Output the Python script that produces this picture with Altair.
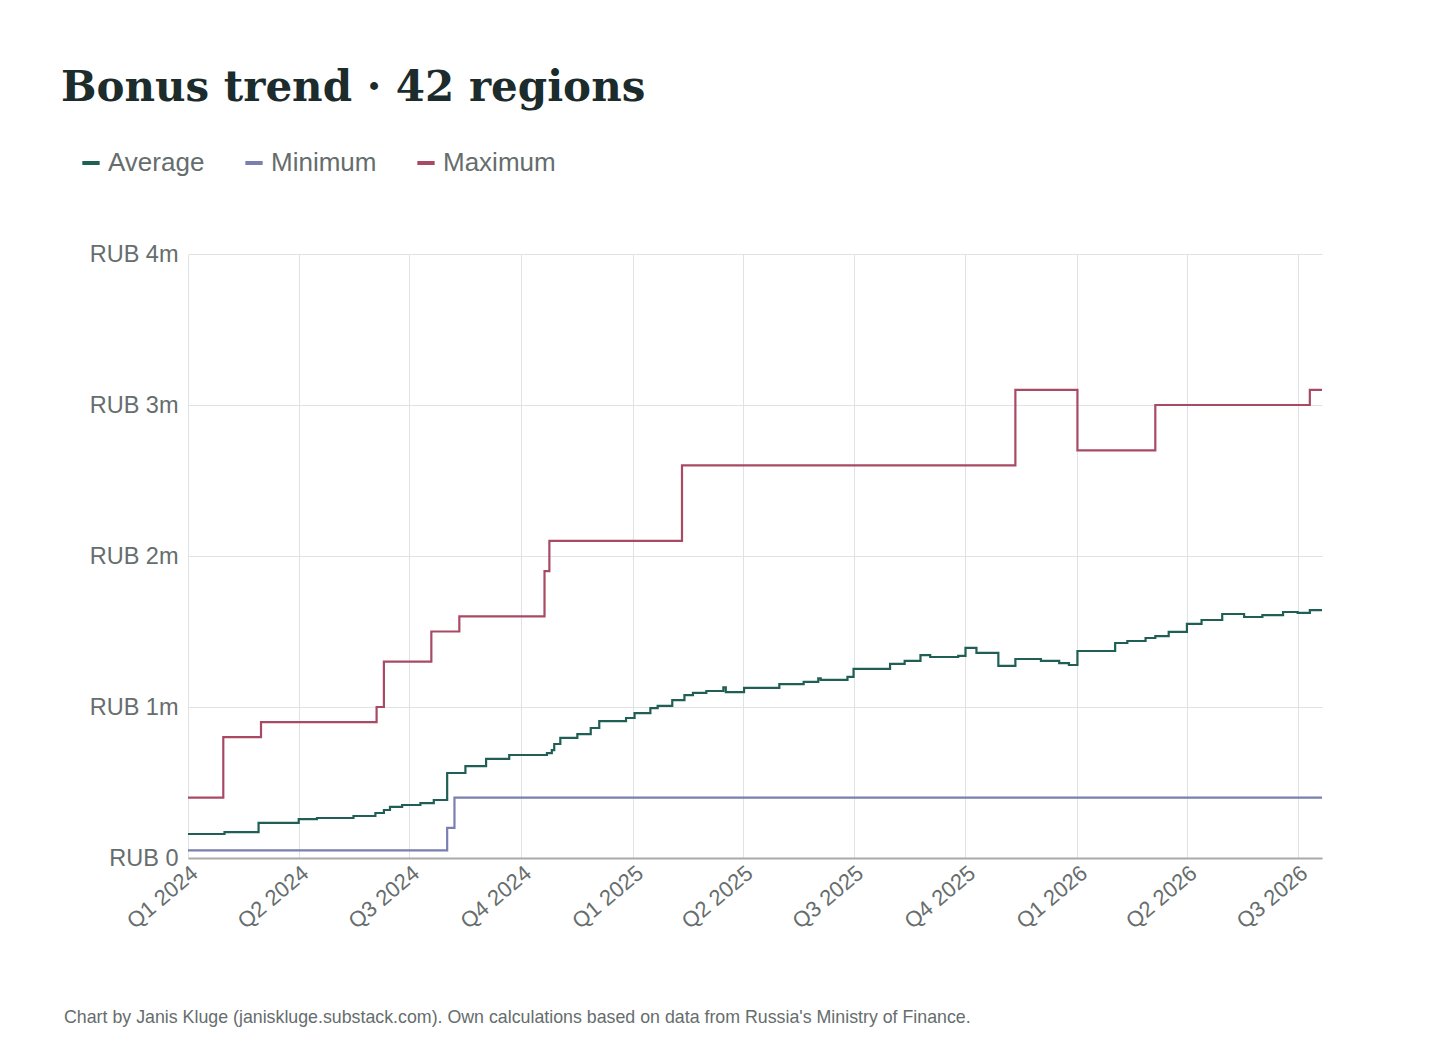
import altair as alt
import pandas as pd

START = "2024-01-01"
END_DAY = 932  # last day shown (days since START)

# days since 2024-01-01 where each series changes, and the new value (RUB m)
avg_days = [0, 30, 58, 91, 106, 136, 154, 161, 166, 176, 191, 202, 213, 228, 245, 264,
            295, 299, 301, 306, 320, 331, 338, 360, 367, 380, 386, 398, 408, 415, 426,
            440, 442, 457, 486, 506, 518, 520, 542, 547, 577, 589, 602, 610, 633, 639,
            648, 666, 680, 701, 716, 724, 731, 762, 772, 787, 795, 806, 821, 833, 850,
            868, 883, 900, 912, 922]
avg_vals = [0.159, 0.172, 0.232, 0.258, 0.265, 0.278, 0.298, 0.318, 0.338, 0.351, 0.364,
            0.384, 0.563, 0.609, 0.656, 0.682, 0.695, 0.715, 0.755, 0.795, 0.821, 0.861,
            0.907, 0.927, 0.960, 0.993, 1.007, 1.046, 1.079, 1.093, 1.106, 1.130, 1.099,
            1.126, 1.152, 1.166, 1.190, 1.179, 1.199, 1.252, 1.285, 1.305, 1.344, 1.331,
            1.338, 1.391, 1.358, 1.272, 1.318, 1.305, 1.291, 1.278, 1.371, 1.424, 1.437,
            1.457, 1.470, 1.497, 1.550, 1.576, 1.616, 1.596, 1.609, 1.629, 1.623, 1.642]

min_days = [0, 213, 219]
min_vals = [0.05, 0.2, 0.4]

max_days = [0, 29, 60, 155, 161, 200, 223, 293, 297, 406, 680, 731, 795, 922]
max_vals = [0.4, 0.8, 0.9, 1.0, 1.3, 1.5, 1.6, 1.9, 2.1, 2.6, 3.1, 2.7, 3.0, 3.1]

series = [("Average", avg_days, avg_vals), ("Minimum", min_days, min_vals),
          ("Maximum", max_days, max_vals)]
rows = []
for name, days, vals in series:
    for d, v in zip(days + [END_DAY], vals + [vals[-1]]):
        date = (pd.Timestamp(START) + pd.Timedelta(days=d)).strftime("%Y-%m-%d")
        rows.append({"date": date, "value": v * 1_000_000, "series": name})
df = pd.DataFrame(rows)

quarters = [(2024, 1), (2024, 4), (2024, 7), (2024, 10), (2025, 1), (2025, 4),
            (2025, 7), (2025, 10), (2026, 1), (2026, 4), (2026, 7)]
tick_values = [alt.DateTime(year=y, month=m, date=1, utc=True) for y, m in quarters]
end_date = (pd.Timestamp(START) + pd.Timedelta(days=END_DAY)).strftime("%Y-%m-%d")

gray = "#666d6d"

lines = alt.Chart(df).mark_line(interpolate="step-after", strokeWidth=2.2).encode(
    x=alt.X("date:T",
            scale=alt.Scale(type="utc", domain=[START, end_date]),
            axis=alt.Axis(values=tick_values, title=None,
                          labelExpr="'Q' + utcquarter(datum.value) + ' ' + utcyear(datum.value)",
                          labelAngle=-40, labelAlign="right", labelBaseline="top",
                          labelFontSize=22, labelColor=gray, labelPadding=4,
                          gridColor="#e0e3e6", domainColor="#aaaaaa", domainWidth=2,
                          ticks=False)),
    y=alt.Y("value:Q",
            scale=alt.Scale(domain=[0, 4_000_000]),
            axis=alt.Axis(values=[0, 1e6, 2e6, 3e6, 4e6], title=None,
                          labelExpr="'RUB ' + (datum.value == 0 ? '0' : datum.value / 1000000 + 'm')",
                          labelFontSize=23.5, labelColor=gray, labelPadding=10,
                          gridColor="#e0e3e6", domain=False, ticks=False)),
    color=alt.Color("series:N",
                    scale=alt.Scale(domain=["Average", "Minimum", "Maximum"],
                                    range=["#1f5f55", "#7a7fb0", "#a84a64"]),
                    legend=alt.Legend(title=None, orient="none", direction="horizontal",
                                      legendX=-110, legendY=-104,
                                      symbolType="M-1,0H1", symbolStrokeWidth=4,
                                      symbolSize=300, labelFontSize=26,
                                      labelColor=gray, columnPadding=32,
                                      labelFont="Liberation Sans")),
    order=alt.Order("date:T"),
)

footer = alt.Chart(pd.DataFrame({"t": ["Chart by Janis Kluge (janiskluge.substack.com). Own calculations based on data from Russia's Ministry of Finance."]})).mark_text(
    align="left", baseline="middle", fontSize=17.8, color=gray, font="Liberation Sans"
).encode(x=alt.value(-124), y=alt.value(764), text="t:N")

chart = (lines + footer).properties(
    width=1134, height=604,
    title=alt.TitleParams("Bonus trend · 42 regions", anchor="start", dx=-3,
                          offset=40, fontSize=42, font="DejaVu Serif",
                          fontWeight="bold", color="#1c2b2b"),
    autosize=alt.AutoSizeParams(type="none"),
    padding={"left": 180, "top": 246, "right": 120, "bottom": 180},
).configure(font="Liberation Sans").configure_view(stroke=None)

chart.save("out.html", embed_options={"renderer": "svg", "actions": False})
